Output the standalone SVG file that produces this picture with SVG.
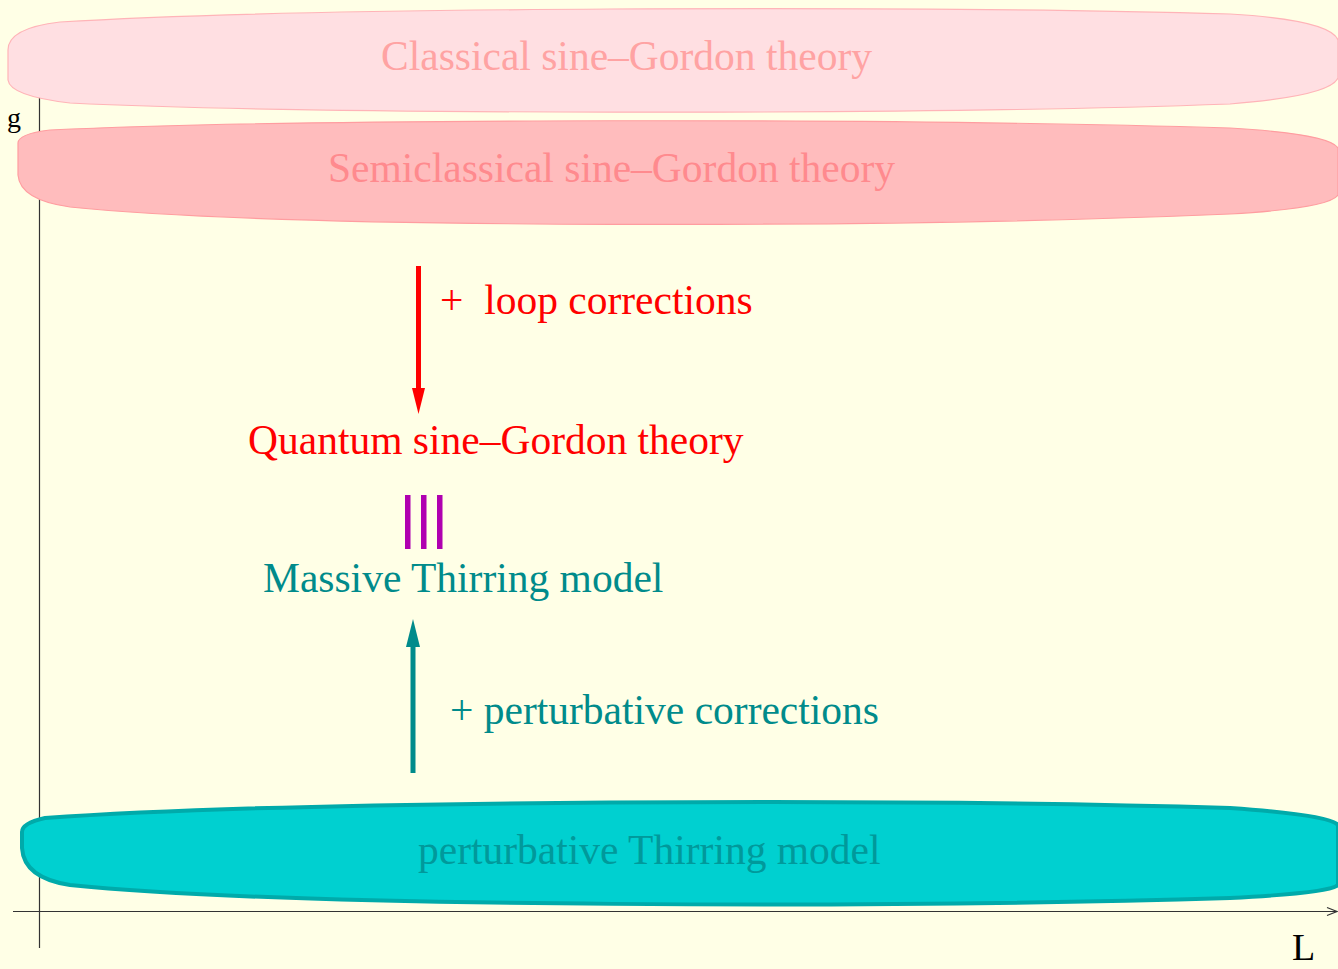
<svg xmlns="http://www.w3.org/2000/svg" width="1338" height="969" viewBox="0 0 1338 969">
<style>
.t{font-family:"Liberation Serif","Times New Roman",serif;font-size:41.5px}
.ax{stroke:#333;stroke-width:1.2;fill:none}
</style>
<rect width="1338" height="969" fill="#ffffe6"/>
<g id="axes">
<line class="ax" x1="39.5" y1="97" x2="39.5" y2="948"/>
<line class="ax" x1="13" y1="911.5" x2="1337" y2="911.5"/>
<polyline class="ax" points="1327,907.5 1337,911.5 1327,915.5"/>
<text x="7" y="127" font-family="Liberation Serif,serif" font-size="28" fill="#000">g</text>
<text x="1292" y="960" font-family="Liberation Serif,serif" font-size="38" fill="#000">L</text>
</g>
<g id="classical">
<path d="M8,50 Q8,28 60,22 C300,7 900,5 1230,14 Q1330,20 1338,40 L1338,78 Q1330,96 1230,104 C900,116 300,114 70,103 Q10,96 8,80 Z" fill="#ffdfe2" stroke="#ffb4b8" stroke-width="1.2"/>
<text class="t" x="381" y="70" fill="#ffa3a3">Classical sine–Gordon theory</text>
</g>
<g id="semiclassical">
<path d="M18,143 Q18,134 50,130 C300,118 900,118 1230,128 Q1330,134 1338,148 L1338,195 Q1330,208 1230,214 C900,228 300,230 70,207 Q20,200 18,175 Z" fill="#ffbcbd" stroke="#ff9da0" stroke-width="1.2"/>
<text class="t" x="328" y="182" fill="#ff8a8e">Semiclassical sine–Gordon theory</text>
</g>
<g id="quantum">
<text class="t" x="248" y="454" fill="#ff0000">Quantum sine–Gordon theory</text>
</g>
<g id="equiv" fill="#b000b0">
<rect x="405" y="495" width="5.5" height="54"/>
<rect x="421" y="495" width="5.5" height="54"/>
<rect x="437" y="495" width="5.5" height="54"/>
</g>
<g id="massive">
<text class="t" x="263" y="592" fill="#008b8b">Massive Thirring model</text>
</g>
<g id="perturbative">
<path d="M22,832 Q22,823 45,818 C300,800 900,798 1230,808 Q1330,815 1338,825 L1338,885 Q1330,893 1230,898 C900,908 300,908 70,885 Q24,878 22,848 Z" fill="#00d0d0" stroke="#00aaaa" stroke-width="4"/>
<text class="t" x="418" y="864" fill="#00999b">perturbative Thirring model</text>
</g>
<g id="connectors">
<line x1="418.5" y1="266" x2="418.5" y2="392" stroke="#ff0000" stroke-width="5"/>
<polygon points="412,388 425,388 418.5,414" fill="#ff0000"/>
<text class="t" x="440" y="314" fill="#ff0000" xml:space="preserve">+  loop corrections</text>
<line x1="413" y1="773" x2="413" y2="642" stroke="#008b8b" stroke-width="5"/>
<polygon points="406,647 420,647 413,619" fill="#008b8b"/>
<text class="t" x="450" y="724" fill="#008b8b">+ perturbative corrections</text>
</g>
</svg>
